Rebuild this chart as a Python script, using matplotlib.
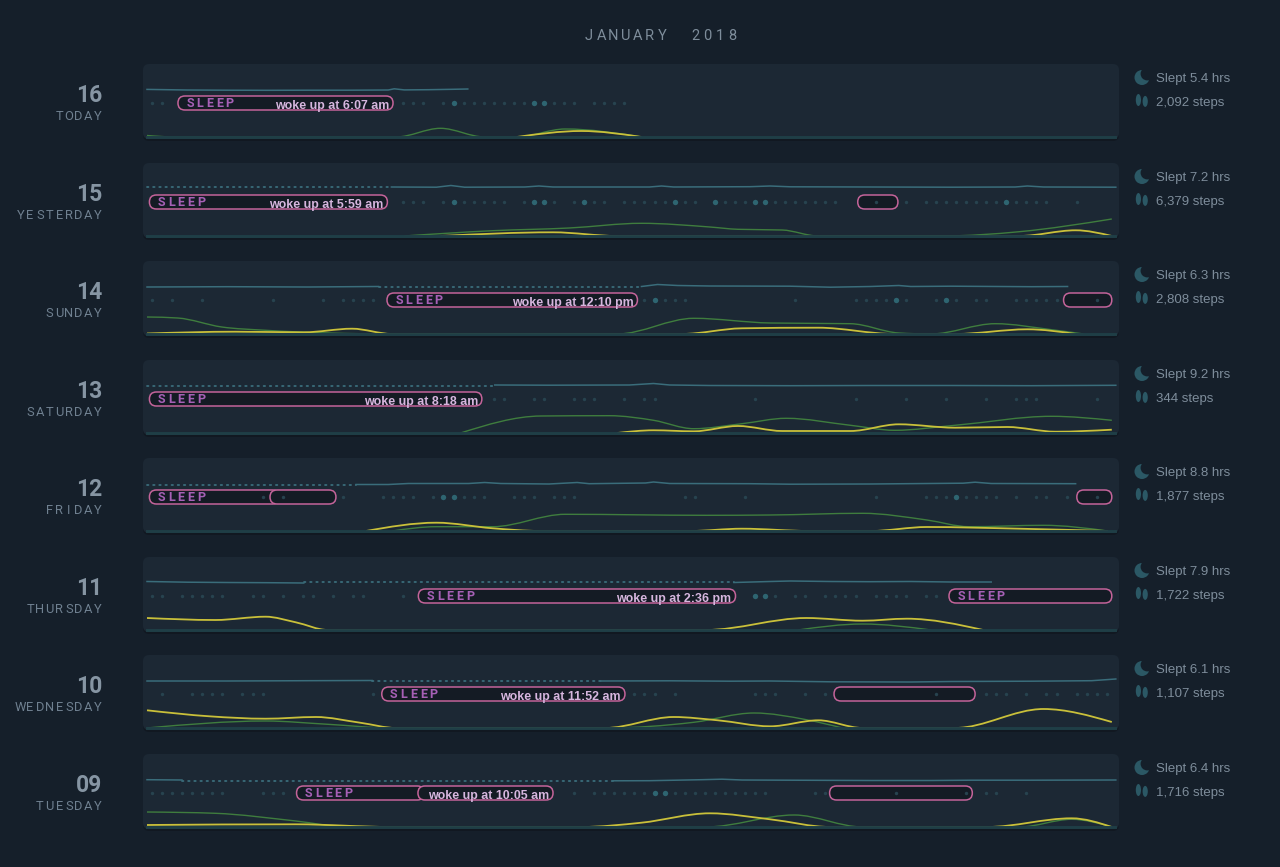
#!/usr/bin/env python3
# sleep / activity timeline, one strip per day
import numpy as np, matplotlib
matplotlib.use("Agg"); import matplotlib.pyplot as plt
from matplotlib.patches import FancyBboxPatch, Circle, Ellipse, PathPatch
from matplotlib.path import Path
import matplotlib.transforms as mtransforms

W, H = 1280, 867
BG = "#151f2a"; PANEL = "#1c2834"; SHADOW = "#111821"
PILL_EDGE = "#c4649a"; PILL_FILL = "#141b24"; SLEEP_C = "#a660b6"; WOKE_C = "#d6b6de"
HR_C = "#3a6d7b"; DOT_C = "#27434f"; DOT_BIG = "#2e6571"; BASE_C = "#1f3e46"
GREEN = "#3f7d3e"; YELLOW = "#c9c03a"; ICON = "#2b5865"
NUM_C = "#8695a3"; NAME_C = "#6f8090"; TXT_C = "#7e8d9b"

# ---- data -------------------------------------------------------------
days = ["16", "15", "14", "13", "12", "11", "10", "09"]
day_names = ["TODAY", "YESTERDAY", "SUNDAY", "SATURDAY", "FRIDAY", "THURSDAY", "WEDNESDAY", "TUESDAY"]
slept_hrs = [5.4, 7.2, 6.3, 9.2, 8.8, 7.9, 6.1, 6.4]
steps = [2092, 6379, 2808, 344, 1877, 1722, 1107, 1716]

# sleep pills: (start h, end h, label, woke text)
pills = [
    [(0.77, 6.12, "SLEEP", "woke up at 6:07 am")],
    [(0.06, 5.98, "SLEEP", "woke up at 5:59 am"), (17.68, 18.68, "", "")],
    [(5.97, 12.2, "SLEEP", "woke up at 12:10 pm"), (22.8, 24.0, "", "")],
    [(0.06, 8.33, "SLEEP", "woke up at 8:18 am")],
    [(0.06, 3.3, "SLEEP", ""), (3.06, 4.7, "", ""), (23.13, 24.0, "", "")],
    [(6.75, 14.64, "SLEEP", "woke up at 2:36 pm"), (19.95, 24.0, "SLEEP", "")],
    [(5.84, 11.89, "SLEEP", "woke up at 11:52 am"), (17.09, 20.6, "", "")],
    [(3.72, 6.9, "SLEEP", ""), (6.74, 10.1, "", "woke up at 10:05 am"), (16.98, 20.53, "", "")],
]

# heart rate: solid parts as (hour, level) points, dotted parts as (start, end, level)
hr_solid = [
    [[(0, 49.6), (1, 49.0), (2, 48.8), (3, 48.7), (4, 48.8), (5, 48.8), (6, 49.0), (6.15, 50.2), (6.4, 49.1),
      (7.0, 49.3), (7.6, 49.7), (7.98, 50.0)]],
    [[(6.08, 51.0), (7.2, 50.8), (7.56, 52.5), (7.9, 50.8), (9.4, 51.0), (9.75, 52.0), (10.1, 51.0), (12.5, 51.0),
      (12.8, 52.0), (13.1, 51.0), (15.0, 51.3), (15.5, 52.0), (16.0, 51.2), (18.0, 51.0), (20.0, 50.8),
      (21.6, 51.0), (21.9, 52.0), (22.3, 51.0), (24.1, 50.8)]],
    [[(0, 49.0), (2, 49.3), (4, 49.0), (5.76, 49.5)],
     [(12.3, 49.5), (12.7, 51.5), (13.2, 50.5), (14.0, 50.0), (16.0, 49.8), (17.0, 48.8), (18.0, 49.5),
      (18.7, 50.5), (19.0, 49.5), (20.0, 49.8), (22.0, 49.3), (22.9, 49.5)]],
    [[(8.65, 50.0), (10.0, 49.8), (12.0, 50.0), (12.6, 51.5), (13.0, 50.0), (14.0, 49.5), (16.0, 49.3),
      (18.0, 49.5), (20.0, 49.5), (22.0, 49.3), (24.1, 49.7)]],
    [[(5.2, 48.5), (6.0, 48.5), (6.5, 49.5), (8.0, 49.5), (8.4, 50.5), (8.8, 49.5), (10.0, 49.0), (10.7, 50.5),
      (11.0, 49.3), (12.4, 50.0), (12.6, 51.0), (13.0, 49.5), (15.0, 49.3), (16.0, 48.8), (18.0, 49.0),
      (20.3, 49.8), (20.6, 50.8), (21.0, 49.5), (23.1, 49.3)]],
    [[(0, 50.5), (1, 49.8), (2, 49.5), (3, 49.3), (3.9, 49.0)],
     [(14.6, 49.5), (15.5, 50.5), (16.0, 51.0), (17.0, 50.5), (18.0, 50.3), (19.0, 50.5), (20.0, 50.0), (21.0, 50.0)]],
    [[(0, 49.0), (2, 49.0), (4, 49.3), (5.6, 49.5)],
     [(11.3, 49.0), (13.0, 49.2), (14.5, 48.8), (15.5, 49.0), (17.0, 48.2), (19.0, 48.0), (20.0, 48.5),
      (22.0, 48.8), (23.5, 49.3), (24.1, 51.0)]],
    [[(0, 49.3), (0.87, 49.0)],
     [(11.6, 48.2), (12.5, 48.3), (13.8, 49.3), (14.3, 49.8), (14.8, 49.0), (16.0, 48.8), (18.0, 48.5),
      (19.5, 48.5), (20.5, 48.8), (22.0, 48.8), (24.1, 49.0)]],
]
hr_dotted = [
    [], [(0, 6.08, 51.0)], [(5.76, 12.3, 49.5)], [(0, 8.65, 49.5)], [(0, 5.2, 48.5)],
    [(3.9, 14.6, 49.8)], [(5.6, 11.3, 49.0)], [(0.87, 11.6, 48.5)],
]

# activity dots, quarter-hour slot indices (0..95)
dots = [
    [0, 1, 25, 26, 27, 29, 30, 31, 32, 33, 34, 35, 36, 37, 38, 39, 40, 41, 42, 44, 45, 46, 47],
    [25, 26, 27, 29, 30, 31, 32, 33, 34, 35, 37, 38, 39, 40, 42, 43, 44, 45, 47, 48, 49, 50, 51, 52, 53, 54,
     56, 57, 58, 59, 60, 61, 62, 63, 64, 65, 66, 67, 68, 72, 75, 77, 78, 79, 80, 81, 82, 83, 84, 85, 86, 87,
     88, 89, 92],
    [0, 2, 5, 12, 17, 19, 20, 21, 22, 49, 50, 51, 52, 53, 64, 70, 71, 72, 73, 74, 75, 78, 79, 80, 82, 83,
     86, 87, 88, 89, 90, 94],
    [34, 35, 38, 39, 42, 43, 44, 47, 49, 50, 60, 70, 75, 79, 83, 86, 87, 88, 94],
    [11, 13, 19, 23, 24, 25, 26, 28, 29, 30, 31, 32, 33, 36, 37, 38, 40, 41, 42, 53, 54, 59, 72, 77, 78, 79,
     80, 81, 82, 83, 84, 86, 88, 89, 91, 94],
    [0, 1, 3, 4, 5, 6, 7, 10, 11, 13, 15, 16, 18, 20, 21, 25, 60, 61, 62, 64, 65, 67, 68, 69, 70, 72, 73,
     74, 75, 77, 78],
    [1, 4, 5, 6, 7, 9, 10, 11, 22, 48, 49, 50, 52, 60, 61, 62, 65, 67, 78, 83, 84, 85, 87, 89, 90, 92, 93,
     94, 95],
    [0, 1, 2, 3, 4, 5, 6, 7, 11, 12, 13, 42, 44, 45, 46, 47, 48, 49, 50, 51, 52, 53, 54, 55, 56, 57, 58, 59,
     60, 61, 66, 67, 74, 81, 83, 84, 87],
]
big_dots = [[30, 38, 39], [30, 38, 39, 43, 52, 56, 60, 61, 85], [50, 74, 79], [], [29, 30, 80], [60, 61], [], [50, 51]]

# activity curves: (hour, height above baseline in px)
green = [
    [(0, 1.5), (0.7, 0), (6.2, 0), (7.3, 8.7), (8.4, 0), (9.2, 0), (10.4, 8.0), (12.3, 0)],
    [(6.4, 0), (8.6, 5.3), (10.5, 8.0), (12.3, 12.7), (14.0, 9.0), (14.7, 6.7), (15.8, 6.0), (16.7, 0),
     (19.8, 0), (21.7, 4.3), (24.0, 17.0)],
    [(0, 17.0), (0.76, 16.0), (1.86, 7.0), (2.95, 3.7), (4.5, 1.0), (6.1, 0), (11.7, 0), (13.6, 15.7),
     (15.5, 11.0), (17.5, 10.3), (18.7, 1.0), (19.5, 0), (21.1, 10.3), (22.5, 4.3), (23.3, 0)],
    [(7.8, 0), (9.8, 17.0), (11.5, 17.3), (12.6, 12.7), (13.6, 4.3), (14.8, 9.3), (15.9, 14.7), (17.5, 7.7),
     (18.6, 2.7), (20.1, 7.7), (22.5, 16.7), (24.0, 12.7)],
    [(6.1, 0), (7.2, 4.3), (8.6, 4.3), (10.4, 16.7), (13.9, 15.7), (15.5, 16.0), (17.8, 17.7), (19.4, 11.0),
     (20.45, 4.3), (22.3, 5.7), (23.9, 0)],
    [(16.2, 0), (17.8, 6.0), (19.5, 0)],
    [(0, 0), (2.95, 7.0), (4.5, 3.7), (6.1, 0), (11.4, 0), (13.6, 5.7), (15.1, 15.0), (16.4, 8.3), (17.3, 0)],
    [(0, 15.0), (1.7, 13.7), (3.7, 6.0), (5.0, 0), (13.9, 0), (16.1, 12.0), (17.8, 0), (21.7, 0), (23.0, 7.7),
     (24.0, 0)],
]
yellow = [
    [(9.2, 0), (10.8, 6.0), (12.3, 0)],
    [(7.3, 0), (10.1, 3.7), (11.7, 0), (21.7, 0), (23.1, 5.7), (24.0, 0)],
    [(0, 0.5), (2.2, 2.3), (3.9, 1.7), (5.1, 5.3), (6.1, 0), (13.3, 0), (14.8, 5.7), (16.7, 6.3), (18.6, 0),
     (20.1, 0), (21.9, 4.7), (23.1, 0)],
    [(11.7, 0), (12.6, 2.7), (13.6, 1.7), (14.7, 7.0), (15.8, 2.0), (17.5, 2.0), (18.7, 8.7), (20.1, 5.3),
     (21.4, 6.0), (22.6, 1.3), (24.0, 3.3)],
    [(5.45, 0), (7.2, 8.3), (8.6, 2.7), (9.8, 0), (13.5, 0), (14.8, 2.3), (16.5, 0), (18.0, 0), (19.4, 4.0),
     (21.7, 2.3), (23.9, 0)],
    [(0, 12.0), (1.7, 10.0), (2.95, 13.3), (3.7, 7.7), (4.5, 0), (13.9, 0), (16.4, 12.0), (17.8, 9.3),
     (18.9, 11.3), (20.8, 0)],
    [(0, 17.7), (1.55, 11.7), (2.95, 9.3), (4.2, 11.0), (5.3, 5.3), (6.2, 0), (11.4, 0), (13.1, 11.0),
     (14.2, 7.7), (15.5, 1.7), (16.7, 7.7), (17.8, 0), (20.1, 0), (22.3, 19.0), (24.0, 6.0)],
    [(0, 2.0), (3.7, 2.7), (6.1, 0), (10.8, 0), (12.3, 4.3), (14.0, 13.7), (15.5, 7.7), (17.0, 0), (20.9, 0),
     (23.0, 8.7), (24.0, 0)],
]

# ---- layout -----------------------------------------------------------
tops = [64, 163, 261, 360, 458, 557, 655, 754]
PX0, PW, PH = 143, 976, 75
PXH = 40.2                      # pixels per hour
X0 = -4 / PXH                   # hour at left edge of strip
BASE_Y = 2.0


def mono_path(pts, base):
    """monotone cubic through the points (no overshoot), as a bezier path"""
    x = np.array([p[0] for p in pts], float); y = np.array([p[1] for p in pts], float) + base
    n = len(x); h = np.diff(x); s = np.diff(y) / h
    m = np.zeros(n)
    for i in range(1, n - 1):
        p = (s[i - 1] * h[i] + s[i] * h[i - 1]) / (h[i - 1] + h[i])
        m[i] = (np.sign(s[i - 1]) + np.sign(s[i])) * min(abs(s[i - 1]), abs(s[i]), 0.5 * abs(p))
    m[0] = s[0] if n == 2 else (3 * s[0] - m[1]) / 2
    m[-1] = s[-1] if n == 2 else (3 * s[-1] - m[-2]) / 2
    verts = [(x[0], y[0])]; codes = [Path.MOVETO]
    for i in range(n - 1):
        d = h[i] / 3
        verts += [(x[i] + d, y[i] + m[i] * d), (x[i + 1] - d, y[i + 1] - m[i + 1] * d), (x[i + 1], y[i + 1])]
        codes += [Path.CURVE4] * 3
    return Path(verts, codes)


def spaced(ax, x, y, s, step, align, transform, space_w=1.0, **kw):
    """letter-spaced text: one char per slot, a space takes space_w slots"""
    w = [space_w if c == " " else 1.0 for c in s]
    pos = [0.0]
    for k in range(1, len(s)):
        pos.append(pos[-1] + step * (w[k - 1] + w[k]) / 2)
    if align == "right":
        pos = [p - pos[-1] for p in pos]
    elif align == "center":
        pos = [p - pos[-1] / 2 for p in pos]
    for ch, o in zip(s, pos):
        if ch == " ":
            continue
        tr = mtransforms.offset_copy(transform, fig=fig, x=o, y=0, units="dots")
        ax.text(x, y, ch, transform=tr, ha="center", va="baseline", **kw)


fig = plt.figure(figsize=(W / 100, H / 100), dpi=100, facecolor=BG)
bg = fig.add_axes([0, 0, 1, 1]); bg.set_xlim(0, W); bg.set_ylim(H, 0); bg.axis("off"); bg.set_zorder(0)

spaced(bg, 660.5, 40, "JANUARY 2018", 12.1, "center", bg.transData, space_w=1.8,
       fontsize=10.5, color=TXT_C, family="Roboto")

for i, top in enumerate(tops):
    bg.add_patch(FancyBboxPatch((PX0, top + 2), PW, PH, boxstyle="round,pad=0,rounding_size=6",
                                fc=SHADOW, ec="none", zorder=1))
    bg.add_patch(FancyBboxPatch((PX0, top), PW, PH, boxstyle="round,pad=0,rounding_size=6",
                                fc=PANEL, ec="none", zorder=2))
    # left labels
    bg.text(102.5, top + 38, days[i], ha="right", va="baseline", fontsize=16.5, fontweight="bold",
            color=NUM_C, family="Roboto")
    spaced(bg, 98.0, top + 56, day_names[i], 9.7, "right", bg.transData,
           fontsize=9.3, color=NAME_C, family="Roboto")
    # right stats + icons
    bg.add_patch(Circle((1142, top + 13.5), 7.5, fc=ICON, ec="none", zorder=3))
    bg.add_patch(Circle((1147.2, top + 9.8), 6.6, fc=BG, ec="none", zorder=4))
    bg.add_patch(Ellipse((1138.4, top + 36.0), 5.2, 12, fc=ICON, ec="none", zorder=3))
    bg.add_patch(Ellipse((1145.2, top + 37.4), 5.2, 11, fc=ICON, ec="none", zorder=3))
    bg.text(1156, top + 17.7, f"Slept {slept_hrs[i]} hrs", ha="left", va="baseline", fontsize=9.5,
            color=TXT_C, family="Liberation Sans")
    bg.text(1156, top + 41.7, f"{steps[i]:,} steps", ha="left", va="baseline", fontsize=9.5,
            color=TXT_C, family="Liberation Sans")

    # data strip
    ax = fig.add_axes([PX0 / W, 1 - (top + PH) / H, PW / W, PH / H])
    ax.set_xlim(X0, X0 + PW / PXH); ax.set_ylim(0, PH); ax.axis("off"); ax.patch.set_alpha(0)
    ax.set_zorder(2)

    ax.add_patch(PathPatch(mono_path(green[i], BASE_Y), fill=False, ec=GREEN, lw=1.0, zorder=2))
    ax.add_patch(PathPatch(mono_path(yellow[i], BASE_Y), fill=False, ec=YELLOW, lw=1.3, zorder=2))
    # baseline drawn over the curves so their zero stretches disappear into it
    ax.axhline(BASE_Y, xmin=0.004, xmax=0.996, color=BASE_C, lw=2.1, zorder=3)

    for seg in hr_solid[i]:
        ax.plot([p[0] for p in seg], [p[1] for p in seg], color=HR_C, lw=1.1, zorder=2,
                solid_joinstyle="round")
    for t0, t1, lv in hr_dotted[i]:
        ax.plot([t0, t1], [lv, lv], color=HR_C, lw=1.3, ls=(0, (0.8, 2.6)), dash_capstyle="round", zorder=2)

    for s, e, lab, woke in pills[i]:
        ax.add_patch(FancyBboxPatch((s, 29), e - s, 14, boxstyle=f"round,pad=0,rounding_size={7 / PXH}",
                                    mutation_aspect=PXH, fc=PILL_FILL, ec=PILL_EDGE, lw=1.1, zorder=4))
        if lab:
            spaced(ax, s + 12 / PXH, 31.7, lab, 9.9, "left", ax.transData,
                   fontsize=9, fontweight="bold", color=SLEEP_C, family="Roboto", zorder=6)
        if woke:
            ax.text(e - 0.1, 30, woke, ha="right", va="baseline", fontsize=8.9, fontweight="bold",
                    color=WOKE_C, family="Liberation Sans", zorder=6)

    hx = [(k + 0.5) / 4 for k in dots[i] if k not in big_dots[i]]
    bx = [(k + 0.5) / 4 for k in big_dots[i]]
    ax.scatter(hx, [36.3] * len(hx), s=6, c=DOT_C, lw=0, zorder=5)
    ax.scatter(bx, [36.3] * len(bx), s=15, c=DOT_BIG, lw=0, zorder=5)

plt.savefig("out.png", dpi=100, facecolor=BG)
